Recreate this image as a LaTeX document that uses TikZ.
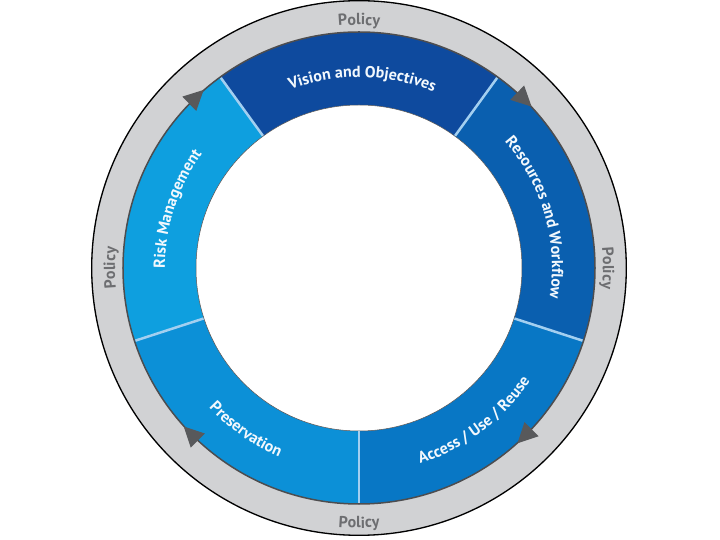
\documentclass[tikz,border=0pt]{standalone}
\usepackage{fontspec}
\setmainfont{PT Sans}
\usetikzlibrary{decorations.text}
\definecolor{ringgray}{HTML}{D1D2D4}
\definecolor{policygray}{HTML}{6D6E71}
\definecolor{arrowgray}{HTML}{58595B}
\definecolor{edgegray}{HTML}{4D4D4F}
\definecolor{sepblue}{HTML}{A3CFF0}
\definecolor{cvision}{HTML}{0E4A9E}
\definecolor{cres}{HTML}{0A5FAF}
\definecolor{caccess}{HTML}{0877C5}
\definecolor{cpres}{HTML}{0C90D7}
\definecolor{crisk}{HTML}{0E9FDF}
\definecolor{segwhite}{HTML}{F2F8FD}
\newcommand\segfont{\fontsize{16}{16}\selectfont\bfseries}
\newcommand\polfont{\fontsize{16}{16}\selectfont\bfseries}
\tikzset{
  segtext/.style={decorate, decoration={text along path, text align=center, text color=segwhite, text={|\segfont|#1}}},
  poltext/.style={decorate, decoration={text along path, text align=center, text color=policygray, text={|\polfont|#1}}},
  arrowtri/.style={fill=arrowgray}
}
\begin{document}
\begin{tikzpicture}[x=1pt,y=1pt]
\useasboundingbox (-359,-272) rectangle (361,268);
% outer gray ring
\fill[ringgray] (0,0) circle[radius=268];
\draw[black, line width=1.3] (0,0) circle[radius=267.3];
% blue segments
\foreach \a/\b/\c in {54/126/cvision, 126/198/crisk, 198/270/cpres, 270/342/caccess, -18/54/cres}
  \fill[\c] (\a:236) arc[start angle=\a, end angle=\b, radius=236] -- (\b:163) arc[start angle=\b, end angle=\a, radius=163] -- cycle;
\fill[white] (0,0) circle[radius=163];
\draw[edgegray, line width=1.5] (0,0) circle[radius=236];
\draw[edgegray, line width=0.5] (0,0) circle[radius=163];
% separators
\foreach \a in {54,126,198,270,342}
  \draw[sepblue, line width=2.5] (\a:163.5) -- (\a:235);
% arrows
\foreach \t in {134,46,-45,225}
  \fill[arrowtri, shift={(\t:236)}, rotate=\t-90] (12,0) -- (-8,10) -- (-8,-10) -- cycle;
% segment texts
\path[segtext={Vision and Objectives}] (125:191) arc[start angle=125, end angle=53, radius=191];
\path[segtext={Resources and Workflow}] (52:193) arc[start angle=52, end angle=-20, radius=193];
\path[segtext={Risk Management}] (198:194) arc[start angle=198, end angle=126, radius=194];
\path[segtext={Preservation}] (199:205) arc[start angle=199, end angle=271, radius=205];
\path[segtext={Access / Use / Reuse}] (271:205) arc[start angle=271, end angle=343, radius=205];
% policy texts
\path[poltext={Policy}] (150:243) arc[start angle=150, end angle=30, radius=243];
\path[poltext={Policy}] (225:244) arc[start angle=225, end angle=135, radius=244];
\path[poltext={Policy}] (45:244) arc[start angle=45, end angle=-45, radius=244];
\path[poltext={Policy}] (225:260) arc[start angle=225, end angle=315, radius=260];
\end{tikzpicture}
\end{document}
